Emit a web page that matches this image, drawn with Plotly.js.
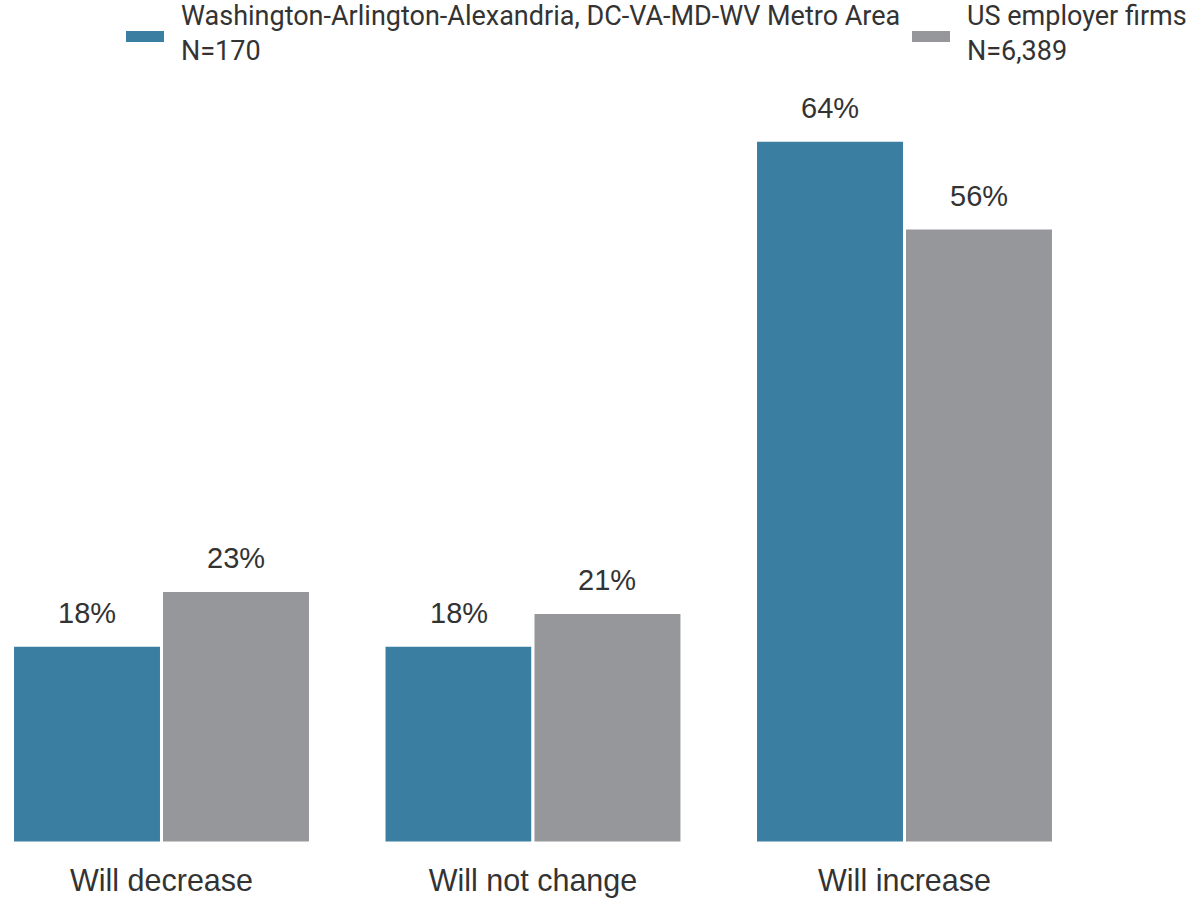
<!DOCTYPE html>
<html>
<head>
<meta charset="utf-8">
<script src="https://cdn.plot.ly/plotly-3.0.1.min.js"></script>
<style>html,body{margin:0;padding:0;background:#fff}#chart{width:1194px;height:898px}</style>
</head>
<body>
<div id="chart"></div>
<script>
const categories = ["Will decrease", "Will not change", "Will increase"];
const seriesNames = ["Washington-Arlington-Alexandria, DC-VA-MD-WV Metro Area", "US employer firms"];
const seriesN = ["N=170", "N=6,389"];
const metroValues = [18, 18, 64];
const usValues = [23, 21, 56];
const colors = ["#3a7ea1", "#96979b"];

const W = 1194, H = 898, MT = 70, MB = 55;
const PH = H - MT - MB;
const BARGAP = 0.198;
const allSeries = [metroValues, usValues];
const traces = allSeries.map((vals, s) => ({
  type: 'bar',
  name: seriesNames[s] + '<br>' + seriesN[s],
  x: categories,
  y: vals,
  marker: {color: colors[s], line: {color: '#ffffff', width: 3}},
  hoverinfo: 'skip',
  showlegend: false
}));

const annotations = [];
const half = (1 - BARGAP) / 4;
allSeries.forEach((vals, s) => {
  vals.forEach((v, i) => {
    annotations.push({
      x: i + (s === 0 ? -half : half), y: v, xref: 'x', yref: 'y',
      text: v + '%', showarrow: false, yanchor: 'bottom', yshift: 14,
      font: {family: '"Liberation Sans", Arial, sans-serif', size: 29, color: '#333333'}
    });
  });
});

// legend drawn as swatches + two-line text
const legendSwatchLeft = [126, 912];
const legendFont = {family: 'Roboto, sans-serif', size: 27, color: '#333333'};
const py = (p) => 1 + (MT - p) / PH;  // page pixel y -> paper y
const shapes = [];
legendSwatchLeft.forEach((px, s) => {
  shapes.push({
    type: 'rect', xref: 'paper', yref: 'paper',
    x0: px / W, x1: (px + 38) / W, y0: py(42), y1: py(31),
    fillcolor: colors[s], line: {width: 0}
  });
  annotations.push({
    xref: 'paper', yref: 'paper', x: (px + 54) / W, y: py(33),
    xanchor: 'left', yanchor: 'middle', align: 'left', showarrow: false,
    text: seriesNames[s] + '<br>' + seriesN[s], font: legendFont, borderpad: 0
  });
});

const layout = {
  width: W, height: H,
  margin: {l: 0, r: 0, t: MT, b: MB},
  paper_bgcolor: '#ffffff', plot_bgcolor: '#ffffff',
  barmode: 'group', bargap: BARGAP, bargroupgap: 0,
  font: {family: 'Roboto, sans-serif', color: '#333333'},
  xaxis: {
    type: 'category', range: [-0.4347, 2.7793],
    showgrid: false, zeroline: false, showline: false, ticks: '',
    tickfont: {family: '"Liberation Sans", Arial, sans-serif', size: 30.5, color: '#333333'},
    ticklabelstandoff: 16
  },
  yaxis: {visible: false, range: [0, PH / 10.98], showgrid: false, zeroline: false},
  showlegend: false,
  shapes: shapes,
  annotations: annotations
};

Plotly.newPlot('chart', traces, layout, {displayModeBar: false, staticPlot: true});
</script>
</body>
</html>
